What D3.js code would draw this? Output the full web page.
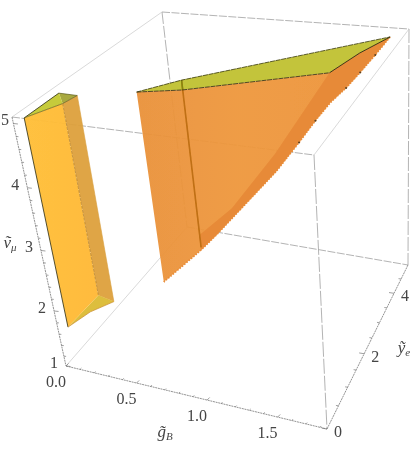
<!DOCTYPE html>
<html><head><meta charset="utf-8">
<style>html,body{margin:0;padding:0;background:#fff}svg{display:block}
text{font-family:"Liberation Serif",serif;fill:#444}</style>
<script src="https://cdn.jsdelivr.net/npm/d3@7/dist/d3.min.js"></script>
</head><body><svg id="c" width="412" height="451"></svg>
<script>
// Data values [g, y, v]
const prismTop   = [[.07,.01,5.1],[.17,.57,5.1],[.19,.92,5.1],[.07,.93,5.1]];
const prismLow   = [[.07,.01,1.75],[.17,.57,2.0],[.19,.92,1.71]];
const prismCurve = [[.07,.01,1.75],[.13,.41,1.78],[.19,.92,1.71],[.17,.57,2.0]];
const bodyFront  = [[.50,1.30,5.1],[.75,1.57,5.1],[1.55,2.85,5.1]];
const bodyBack   = [[.50,1.30,5.1],[.68,1.96,5.1],[1.76,4.59,5.1]];
const bodyCurve  = [[1.55,2.85,5.1],[1.64,3.79,5.1],[1.76,4.59,5.1]];
const bodyLower  = [[1.76,4.59,5.1],[1.70,4.19,4.94],[1.64,3.79,4.79],[1.60,3.31,4.71],[1.55,2.85,4.64],[1.46,2.69,4.39],[1.36,2.53,4.08],[1.22,2.30,3.67],[.85,1.73,2.76],[.75,1.57,2.53],[.50,1.30,2.01]];
const crease     = [[1.55,2.85,5.1],[1.22,2.30,3.95],[.95,1.88,3.16],[.75,1.57,2.78]];
const ridge      = [[.68,1.96,5.1],[.68,1.96,2.37]];
const specks     = [[1.70,4.19,4.94],[1.60,3.31,4.71],[1.46,2.69,4.39],[1.36,2.53,4.08],[1.64,3.79,4.79]];
const gTicks = [0,.5,1,1.5], gLabels = ["0.0","0.5","1.0","1.5"];
const yTicks = [0,2,4], vTicks = [1,2,3,4,5];
const gDomain=[0,1.85], yDomain=[0,5], vDomain=[1,5.1];

// Screen layout of the box
const corner = {c000:[66,366],c100:[327,429],c110:[408,265],c010:[187,227],c001:[12,117],c101:[314,155],c111:[409,29],c011:[162,12]};
const gS = d3.scaleLinear().domain(gDomain).range([0,1]);
const yS = d3.scalePow().exponent(.85).domain(yDomain).range([0,1]);
const vS = d3.scalePow().exponent(1.07).domain([0,vDomain[1]-vDomain[0]]).range([0,1]);
function P([g,y,v]){
  const u=gS(g),w=yS(y),t=vS(v-vDomain[0]);
  const mix=(a,b,k)=>[a[0]+(b[0]-a[0])*k,a[1]+(b[1]-a[1])*k];
  const bot=mix(mix(corner.c000,corner.c100,u),mix(corner.c010,corner.c110,u),w);
  const top=mix(mix(corner.c001,corner.c101,u),mix(corner.c011,corner.c111,u),w);
  return mix(bot,top,t);
}
const svg=d3.select("#c");
const defs=svg.append("defs");
const gr=defs.append("linearGradient").attr("id","bodyFill");
[[0,"#E9913A"],[.4,"#EE973C"],[1,"#EC9339"]].forEach(s=>gr.append("stop").attr("offset",s[0]).attr("stop-color",s[1]));
const gr2=defs.append("linearGradient").attr("id","prismFill");
[[0,"#FFBF38"],[1,"#FFB836"]].forEach(s=>gr2.append("stop").attr("offset",s[0]).attr("stop-color",s[1]));
defs.append("filter").attr("id","soft").append("feGaussianBlur").attr("stdDeviation",.35);
const root=svg.append("g").attr("filter","url(#soft)");
const line=d3.line();
const path=pts=>line(pts.map(P));
const poly=pts=>path(pts)+"Z";

// Box edges behind the marks
const C=k=>corner[k];
const dashed=[["c011","c111","8 1.5"],["c001","c101","8 1.5"],["c010","c110","8 1.5"],["c011","c010","12 2"],["c111","c110","14 2"],["c101","c100","15 2"]];
root.selectAll(".d").data(dashed).join("line").attr("x1",d=>C(d[0])[0]).attr("y1",d=>C(d[0])[1]).attr("x2",d=>C(d[1])[0]).attr("y2",d=>C(d[1])[1])
  .attr("stroke","#aaa").attr("stroke-width",.9).attr("stroke-dasharray",d=>d[2]);
const thin=[["c001","c011"],["c111","c101"],["c010","c000"]];
root.selectAll(".t").data(thin).join("line").attr("x1",d=>C(d[0])[0]).attr("y1",d=>C(d[0])[1]).attr("x2",d=>C(d[1])[0]).attr("y2",d=>C(d[1])[1])
  .attr("stroke","#c8c8c8").attr("stroke-width",.7);

// Left prism
const A=prismTop[0],D=prismTop[1],Cc=prismTop[2],B=prismTop[3],E=prismLow[0],F=prismLow[1],G=prismLow[2];
const face=(pts,fill,op=.94)=>root.append("path").attr("d",poly(pts)).attr("fill",fill).attr("fill-opacity",op);
face([B,Cc,D],"#A8A93F",1);
face([A,B,D],"#C6CB3A",1);
face([D,Cc,G,F],"#DDA03C",.95);
face([E,prismCurve[1],G,F],"#DDBE3C",1);
face([A,D,F,E],"url(#prismFill)",.96);
const edge=(pts,c,w,dash)=>root.append("path").attr("d",path(pts)).attr("fill","none").attr("stroke",c).attr("stroke-width",w).attr("stroke-dasharray",dash||null);
edge([E,A,B],"#2a2a10",.8);
edge([A,D,Cc,B],"#4a4a10",.6);
edge([D,F],"#A87525",.6,"3 1");
edge([E,prismCurve[1],G],"#C88A2A",.7);
edge([Cc,G],"#D9A040",.6);
edge([F,G],"#E0B040",.6);

// Right body
const topFace=[...bodyBack,...bodyCurve.slice().reverse().slice(1),...bodyFront.slice().reverse().slice(1)];
face(topFace,"#C3C43B",1);
const bodyOutline=[...bodyFront,...bodyCurve.slice(1),...bodyLower.slice(1)];
face(bodyOutline,"url(#bodyFill)",.95);
const band=[...crease.slice().reverse(),...bodyCurve.slice(1),...bodyLower.slice(1,10)];
face(band,"#E78A38",.95);
edge(bodyLower,"#E98C39",1.7,"1.6 1.4");
edge(ridge,"#BF6F12",1.6);
edge([ridge[0],[ridge[0][0],ridge[0][1],4.95]],"#7F8A10",1.4);
edge(bodyBack,"#3a3a10",.8,"5 .7");
edge(bodyFront,"#2a2a10",.8,"5 .7");
edge(bodyCurve,"#2a2a10",.9);
root.selectAll(".s").data(specks).join("circle").attr("cx",d=>P(d)[0]).attr("cy",d=>P(d)[1]).attr("r",1).attr("fill","#5a4020");

// Axes
const axes=[["c001","c000"],["c000","c100"],["c100","c110"]];
root.selectAll(".a").data(axes).join("line").attr("x1",d=>C(d[0])[0]).attr("y1",d=>C(d[0])[1]).attr("x2",d=>C(d[1])[0]).attr("y2",d=>C(d[1])[1])
  .attr("stroke","#777").attr("stroke-width",.8).attr("stroke-dasharray","2 .7");
const tickLine=(pts,dx,dy)=>root.append("g").selectAll("line").data(pts).join("line")
  .attr("x1",d=>P(d.p)[0]).attr("y1",d=>P(d.p)[1]).attr("x2",d=>P(d.p)[0]+dx*d.k).attr("y2",d=>P(d.p)[1]+dy*d.k)
  .attr("stroke","#777").attr("stroke-width",.7);
const isMajor=(x,m)=>Math.abs(x/m-Math.round(x/m))<1e-6;
tickLine(d3.range(0,19).map(i=>({p:[i/10,0,1],k:isMajor(i/10,.5)?1:.5})),2.6,-2.6);
tickLine(d3.range(0,10).map(i=>({p:[gDomain[1],i/2,1],k:isMajor(i/2,2)?1:.5})),-5,-.8);
tickLine(d3.range(0,21).map(i=>({p:[0,0,1+i/5],k:isMajor(1+i/5,1)?1:.5})),4.5,.5);

// Tick labels
const label=(pts,fn,txt,dx,dy)=>root.append("g").selectAll("text").data(pts).join("text")
  .attr("x",d=>Math.max(P(fn(d))[0]+dx,5)).attr("y",d=>P(fn(d))[1]+dy).attr("text-anchor","middle").attr("font-size",16).text(txt);
label(gTicks,d=>[d,0,1],(d,i)=>gLabels[i],-10,21);
label(yTicks,d=>[gDomain[1],d,1],d=>d,11,8);
label(vTicks,d=>[0,0,d],d=>d,-12,2);

// Axis titles
const title=(x,y,base,sub)=>{const t=root.append("text").attr("x",x).attr("y",y).attr("text-anchor","middle").attr("font-size",17).attr("font-style","italic").attr("fill","#333");
  t.append("tspan").text(base);t.append("tspan").attr("font-size",11).attr("dy",3).text(sub);};
title(165,437,"g\u0303","B");
title(404,353,"y\u0303","e");
title(10,248,"v\u0303","\u03BC");
</script></body></html>
